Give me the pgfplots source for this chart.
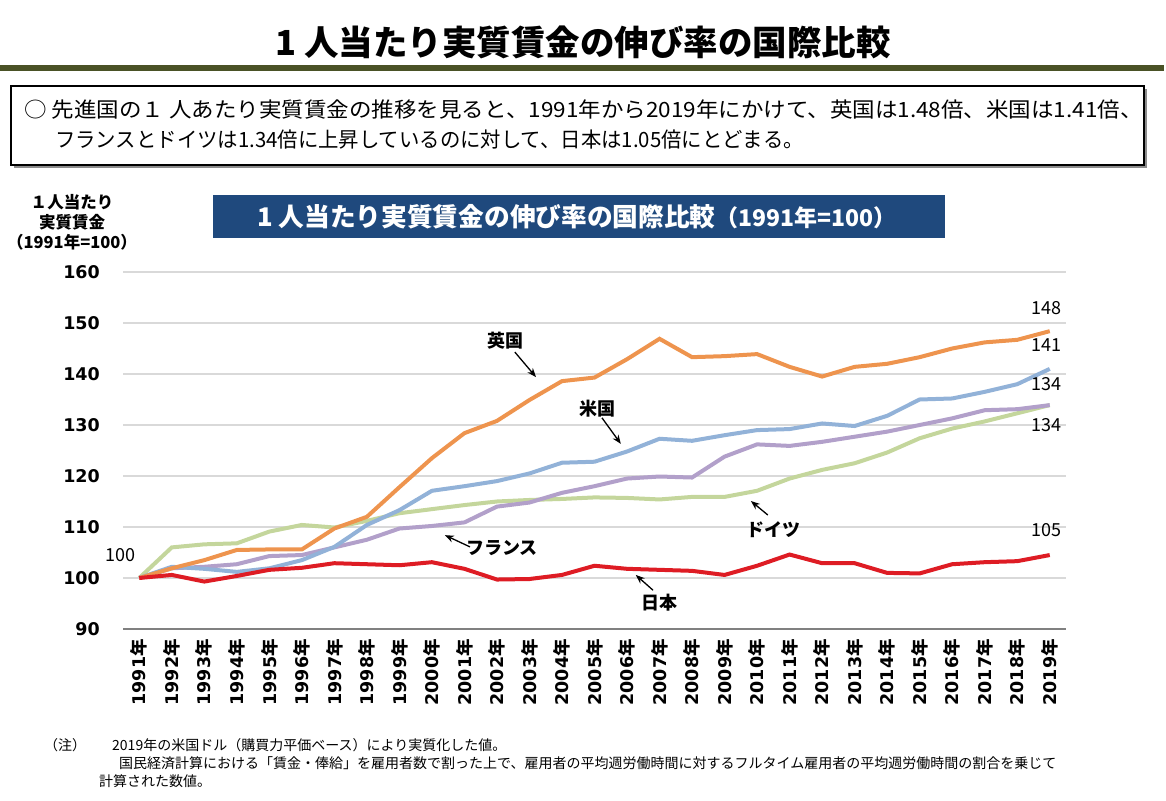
\documentclass[border=0pt]{standalone}
\usepackage{pgfplots}
\pgfplotsset{compat=1.18}
\usepackage{pgfplotstable}
\usetikzlibrary{arrows.meta}
\usepackage{fontspec}
\setmainfont{Noto Sans CJK JP}
\newfontfamily\dv{DejaVu Sans}
\newcommand\yr[1]{{\dv #1}年}
\definecolor{cuk}{RGB}{238,148,78}
\definecolor{cus}{RGB}{146,178,216}
\definecolor{cfr}{RGB}{178,160,202}
\definecolor{cde}{RGB}{196,214,156}
\definecolor{cjp}{RGB}{222,28,36}
\definecolor{olive}{RGB}{74,82,38}
\definecolor{navy}{RGB}{31,73,125}
\definecolor{gridc}{RGB}{217,217,217}
\pgfplotstableread{
year uk us fr de jp
1991 100.0 100.0 100.0 100.0 100.0
1992 101.9 102.2 101.9 106.0 100.6
1993 103.5 101.8 102.2 106.6 99.3
1994 105.5 101.2 102.7 106.8 100.4
1995 105.6 101.9 104.3 109.1 101.6
1996 105.6 103.5 104.5 110.4 102.0
1997 109.7 106.1 106.0 109.9 102.9
1998 112.0 110.4 107.5 111.2 102.7
1999 117.8 113.3 109.7 112.7 102.5
2000 123.5 117.1 110.2 113.5 103.1
2001 128.4 118.0 110.9 114.3 101.8
2002 130.8 119.0 114.0 115.0 99.7
2003 134.9 120.5 114.8 115.3 99.8
2004 138.6 122.6 116.7 115.5 100.6
2005 139.3 122.8 118.0 115.8 102.4
2006 142.9 124.8 119.5 115.7 101.8
2007 146.9 127.3 119.9 115.4 101.6
2008 143.3 126.9 119.7 115.9 101.4
2009 143.5 128.0 123.8 115.9 100.6
2010 143.9 129.0 126.2 117.1 102.4
2011 141.4 129.2 125.9 119.5 104.6
2012 139.5 130.3 126.7 121.2 102.9
2013 141.4 129.8 127.7 122.5 102.9
2014 142.0 131.8 128.7 124.6 101.0
2015 143.3 135.0 130.0 127.4 100.9
2016 145.0 135.2 131.3 129.3 102.7
2017 146.2 136.5 132.9 130.7 103.1
2018 146.7 138.0 133.1 132.3 103.3
2019 148.4 141.0 133.9 133.9 104.5
}\datatable
\begin{document}
\begin{tikzpicture}[x=1pt,y=1pt]
\useasboundingbox (0,0) rectangle (1166,800);
% page title
\node[font=\bfseries\fontsize{34.5}{38}\selectfont] at (583,758) {1 人当たり実質賃金の伸び率の国際比較};
\fill[olive] (0,729) rectangle (1164,735);
% summary box
\fill[black!45] (14,632) rectangle (1147,711);
\draw[line width=2.5pt, fill=white] (11,635) rectangle (1144,714);
\node[anchor=west, font=\fontsize{21}{24}\selectfont, inner sep=0pt] at (24,690) {\scalebox{1.072}[1]{○ 先進国の１ 人あたり実質賃金の推移を見ると、1991年から2019年にかけて、英国は1.48倍、米国は1.41倍、}};
\node[anchor=west, font=\fontsize{21}{24}\selectfont, inner sep=0pt] at (55,660) {\scalebox{0.97}[1]{フランスとドイツは1.34倍に上昇しているのに対して、日本は1.05倍にとどまる。}};
% chart title box
\fill[navy] (213,562) rectangle (945,605);
\node[text=white, font=\bfseries, inner sep=0pt] at (577,583.5) {{\fontsize{25.7}{28}\selectfont 1 人当たり実質賃金の伸び率の国際比較}{\fontsize{23}{25}\selectfont （1991年=100）}};
% y axis title
\node[align=center, font=\bfseries\fontsize{16.5}{20}\selectfont] at (72,578) {１人当たり\\実質賃金\\（1991年=100）};
\begin{axis}[
  at={(123pt,171pt)}, anchor=south west,
  width=943pt, height=357pt, scale only axis,
  xmin=1990.5, xmax=2019.5, ymin=90, ymax=160,
  ytick={90,100,...,160},
  xtick={1991,...,2019},
  xticklabels={\yr{1991},\yr{1992},\yr{1993},\yr{1994},\yr{1995},\yr{1996},\yr{1997},\yr{1998},\yr{1999},\yr{2000},\yr{2001},\yr{2002},\yr{2003},\yr{2004},\yr{2005},\yr{2006},\yr{2007},\yr{2008},\yr{2009},\yr{2010},\yr{2011},\yr{2012},\yr{2013},\yr{2014},\yr{2015},\yr{2016},\yr{2017},\yr{2018},\yr{2019}},
  x tick label style={rotate=90, anchor=east, font=\bfseries\fontsize{17.5}{17.5}\selectfont, inner sep=0pt, xshift=-10pt},
  y tick label style={font=\dv\bfseries\fontsize{17.5}{17.5}\selectfont, inner sep=0pt, xshift=-23pt},
  /pgf/number format/assume math mode=true,
  major tick length=0pt,
  ymajorgrids, grid style={gridc, line width=1.5pt},
  axis x line*=bottom, axis y line*=left,
  x axis line style={draw=black!50, line width=2pt, -},
  y axis line style={draw=none},
  clip=false,
]
\addplot[cde, line width=4pt] table[x=year,y=de] {\datatable};
\addplot[cfr, line width=4pt] table[x=year,y=fr] {\datatable};
\addplot[cus, line width=4pt] table[x=year,y=us] {\datatable};
\addplot[cuk, line width=4pt] table[x=year,y=uk] {\datatable};
\addplot[cjp, line width=4pt] table[x=year,y=jp] {\datatable};
% annotations
\begin{scope}[font=\bfseries\fontsize{18}{18}\selectfont]
\node at (axis cs:2002.25,146.5) {英国};
\draw[line width=1.3pt, -{Stealth[length=9pt,width=7pt]}] (axis cs:2002.55,144.3) -- (axis cs:2003.2,139.4);
\node at (axis cs:2005.1,133.3) {米国};
\draw[line width=1.3pt, -{Stealth[length=9pt,width=7pt]}] (axis cs:2005.23,131.4) -- (axis cs:2005.81,126.3);
\node at (axis cs:2002.15,105.9) {フランス};
\draw[line width=1.3pt, -{Stealth[length=9pt,width=7pt]}] (axis cs:2001.17,106.1) -- (axis cs:2000.4,108.4);
\node at (axis cs:2010.49,109.4) {ドイツ};
\draw[line width=1.3pt, -{Stealth[length=9pt,width=7pt]}] (axis cs:2010.33,112.35) -- (axis cs:2009.81,115.1);
\node at (axis cs:2007.01,95.1) {日本};
\draw[line width=1.3pt, -{Stealth[length=9pt,width=7pt]}] (axis cs:2006.8,97.6) -- (axis cs:2006.27,100.6);
\end{scope}
\begin{scope}[font=\fontsize{18}{18}\selectfont]
\node at (axis cs:1990.41,104.5) {100};
\node at (axis cs:2018.91,152.9) {148};
\node at (axis cs:2018.91,145.7) {141};
\node at (axis cs:2018.91,138.0) {134};
\node at (axis cs:2018.91,130.0) {134};
\node at (axis cs:2018.91,109.4) {105};
\end{scope}
\end{axis}
% notes
\begin{scope}[font=\fontsize{14}{16}\selectfont]
\node[anchor=west, inner sep=0pt] at (44,55) {（注）};
\node[anchor=west, inner sep=0pt] at (112,55) {2019年の米国ドル（購買力平価ベース）により実質化した値。};
\node[anchor=west, inner sep=0pt] at (119,37) {国民経済計算における「賃金・俸給」を雇用者数で割った上で、雇用者の平均週労働時間に対するフルタイム雇用者の平均週労働時間の割合を乗じて};
\node[anchor=west, inner sep=0pt] at (99,19) {計算された数値。};
\end{scope}
\end{tikzpicture}
\end{document}
